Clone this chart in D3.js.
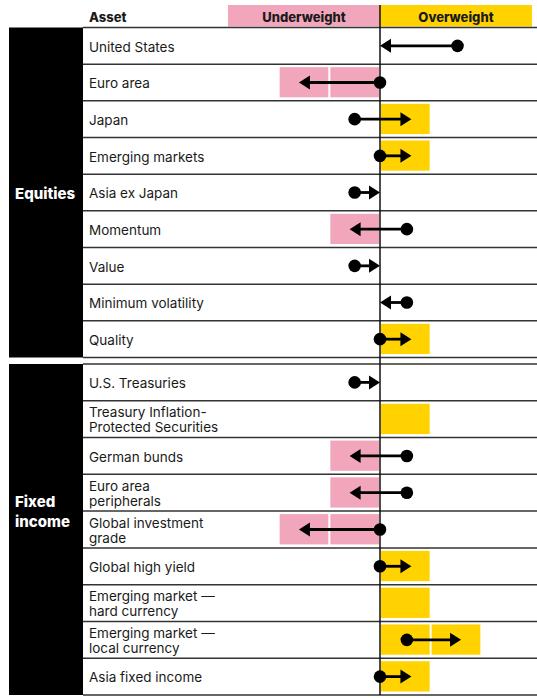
<!DOCTYPE html>
<html><head><meta charset="utf-8">
<script src="https://cdn.jsdelivr.net/npm/d3@7"></script>
<style>body{margin:0;background:#fff}svg{display:block}text{font-family:Inter,"Noto Sans",sans-serif}</style>
</head><body><svg id="c" width="537" height="698"></svg>
<script>
// ---- data ----
const groups = ["Equities", "Fixed income"];
const equityAssets = ["United States","Euro area","Japan","Emerging markets","Asia ex Japan","Momentum","Value","Minimum volatility","Quality"];
const equityViews  = [0, -2, 1, 1, 0, -1, 0, 0, 1];
const equityPrev   = [2, 0, -1, 0, -1, 1, -1, 1, 0];
const fixedAssets = ["U.S. Treasuries","Treasury Inflation-\nProtected Securities","German bunds","Euro area\nperipherals","Global investment\ngrade","Global high yield","Emerging market —\nhard currency","Emerging market —\nlocal currency","Asia fixed income"];
const fixedViews  = [0, 1, -1, -1, -2, 1, 1, 2, 1];
const fixedPrev   = [-1, null, 1, 1, 0, 0, null, 1, 0];
const headerLabels = ["Asset", "Underweight", "Overweight"];

// ---- layout ----
const svg = d3.select("#c");
const PINK = "#f2a6bc", YELLOW = "#ffd200", INK = "#1a1a1a", RULE = "#333";
const x = d3.scaleLinear().domain([-3, 3]).range([228, 532]);
const unit = x(1) - x(0);
const dotX = d3.scaleLinear().domain([-2,-1,0,1,2]).range([x(-1.53), x(-0.5), x(0), x(0.53), x(1.53)]);
const tipX = d3.scaleLinear().domain([-2,-1,0,1,2]).range([x(-1.6), x(-0.6), x(0), x(0.62), x(1.6)]);
const labelX = 89, panelX0 = 9, panelX1 = 83, right = 537;

const blocks = [
  {name: groups[0], assets: equityAssets, views: equityViews, prev: equityPrev, y0: 27.5, y1: 357.5, labelRow: 4.5},
  {name: groups[1], assets: fixedAssets, views: fixedViews, prev: fixedPrev, y0: 364, y1: 695, labelRow: 4}
];

// header
svg.append("rect").attr("x", x(-3)).attr("y", 5).attr("width", x(0) - x(-3)).attr("height", 21.5).attr("fill", PINK);
svg.append("rect").attr("x", x(0)).attr("y", 5).attr("width", x(3) - x(0)).attr("height", 21.5).attr("fill", YELLOW);
svg.append("text").attr("x", labelX).attr("y", 21.5).attr("font-size", 13).attr("font-weight", 800).attr("fill", INK).text(headerLabels[0]);
svg.append("text").attr("x", (x(-3) + x(0)) / 2).attr("y", 21.5).attr("text-anchor", "middle").attr("font-size", 13).attr("font-weight", 800).attr("fill", INK).text(headerLabels[1]);
svg.append("text").attr("x", (x(0) + x(3)) / 2).attr("y", 21.5).attr("text-anchor", "middle").attr("font-size", 13).attr("font-weight", 800).attr("fill", INK).text(headerLabels[2]);

blocks.forEach(b => {
  const y = d3.scaleBand().domain(d3.range(b.assets.length)).range([b.y0, b.y1]);
  const g = svg.append("g");
  // black panel
  g.append("rect").attr("x", panelX0).attr("y", b.y0).attr("width", panelX1 - panelX0).attr("height", b.y1 - b.y0).attr("fill", "#000");
  const words = b.name.split(" ");
  const ly = b.labelRow === 4.5 ? y(4) + y.bandwidth() / 2 : y(b.labelRow);
  words.forEach((w, i) => {
    g.append("text").attr("x", 15).attr("y", ly + 1 + (i - (words.length - 1) / 2) * 20)
      .attr("dy", "0.35em").attr("font-size", 15).attr("font-weight", 800).attr("fill", "#fff").text(w);
  });
  // bars
  b.views.forEach((v, i) => {
    const n = Math.abs(v), s = Math.sign(v);
    for (let k = 0; k < n; k++) {
      const a = x(s * k), c = x(s * (k + 1));
      g.append("rect").attr("x", Math.min(a, c) + 1).attr("y", y(i) + 3)
        .attr("width", unit - 2).attr("height", y.bandwidth() - 6.5)
        .attr("fill", s > 0 ? YELLOW : PINK);
    }
  });
  // rules
  d3.range(b.assets.length + 1).forEach(i => {
    const yy = i < b.assets.length ? y(i) : b.y1;
    g.append("line").attr("x1", panelX1).attr("x2", right).attr("y1", yy).attr("y2", yy)
      .attr("stroke", RULE).attr("stroke-width", 1.5);
  });
  // labels
  b.assets.forEach((name, i) => {
    const lines = name.split("\n");
    const cy = y(i) + y.bandwidth() / 2 + 1;
    lines.forEach((t, j) => {
      g.append("text").attr("x", labelX).attr("y", cy + (j - (lines.length - 1) / 2) * 15)
        .attr("dy", "0.35em").attr("font-size", 13.5).attr("fill", INK).text(t);
    });
  });
});

// center line
svg.append("line").attr("x1", x(0)).attr("x2", x(0)).attr("y1", 5).attr("y2", 695).attr("stroke", "#111").attr("stroke-width", 1.5);

// arrows
blocks.forEach(b => {
  const y = d3.scaleBand().domain(d3.range(b.assets.length)).range([b.y0, b.y1]);
  b.prev.forEach((p, i) => {
    if (p === null) return;
    const v = b.views[i];
    const cy = y(i) + y.bandwidth() / 2;
    const x0 = dotX(p), x1 = tipX(v);
    const dir = Math.sign(x1 - x0);
    const headL = 11, headH = 7;
    const g = svg.append("g");
    g.append("line").attr("x1", x0).attr("x2", x1 - dir * headL + dir).attr("y1", cy).attr("y2", cy)
      .attr("stroke", "#000").attr("stroke-width", 2.8);
    g.append("path").attr("d", `M${x1},${cy}L${x1 - dir * headL},${cy - headH}L${x1 - dir * headL},${cy + headH}Z`).attr("fill", "#000");
    g.append("circle").attr("cx", x0).attr("cy", cy).attr("r", 6.3).attr("fill", "#000");
  });
});
</script></body></html>
